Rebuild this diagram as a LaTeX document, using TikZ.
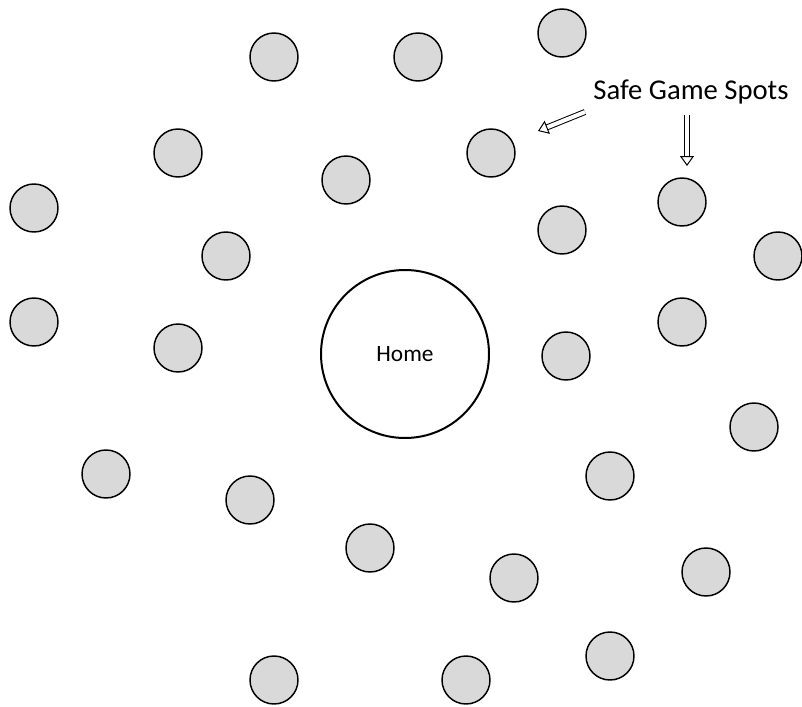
\documentclass[tikz,border=0pt]{standalone}
\usepackage{fontspec}
\setmainfont{Carlito}
\usetikzlibrary{arrows.meta}

\definecolor{spotfill}{RGB}{217, 217, 217}

\tikzset{
    spot/.style={circle, draw=black, fill=spotfill, line width=1.1pt, minimum size=36pt, inner sep=0pt},
    homespot/.style={circle, draw=black, fill=white, line width=1.5pt, minimum size=126pt, inner sep=0pt, font=\fontsize{17.5}{20}\selectfont},
    hollowarrow/.style={draw=black, line width=0.75pt, double=white, double distance=3pt, -{Triangle[open, width=10.5pt, length=7.5pt]}}
}

\begin{document}
\begin{tikzpicture}[x=0.75pt, y=-0.75pt]
    \useasboundingbox (0,0) rectangle (802,706);

    % Home in the middle
    \node[homespot] (home) at (405, 354) {Home};

    % Safe game spots scattered round it
    \foreach \i/\px/\py in {1/274/57, 2/418/57, 3/562/33, 4/178/153, 5/346/180,
        6/491/153, 7/34/208, 8/562/230, 9/682/202, 10/226/256, 11/778/256,
        12/34/322, 13/682/322, 14/178/348, 15/566/356, 16/754/427, 17/106/474,
        18/610/476, 19/250/500, 20/370/548, 21/514/578, 22/706/572, 23/274/680,
        24/466/680, 25/610/656}
        \node[spot] (s\i) at (\px, \py) {};

    % Label with its two arrows
    \node[font=\fontsize{21.5}{26}\selectfont] (label) at (691, 92) {Safe Game Spots};

    \coordinate (t1) at (585, 112);
    \coordinate (h1) at (538, 131);
    \coordinate (t2) at (687, 115);
    \coordinate (h2) at (687, 166);

    \draw[hollowarrow] (t1) -- (h1);
    \draw[hollowarrow] (t2) -- (h2);

\end{tikzpicture}
\end{document}
